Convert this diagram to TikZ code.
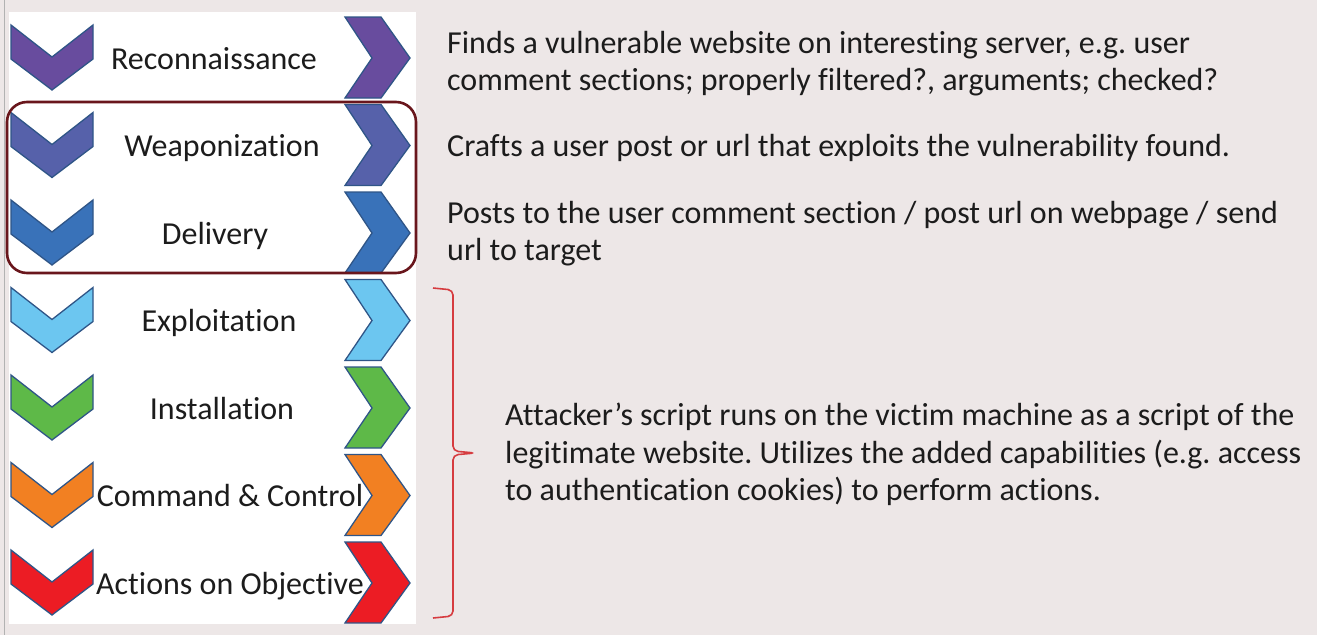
\documentclass[tikz,border=0pt]{standalone}
\usepackage{fontspec}
\setmainfont{Carlito}[Ligatures={NoCommon}]
\usepackage{tikz}
\usetikzlibrary{decorations.pathreplacing, positioning}
\frenchspacing
\definecolor{pagebg}{RGB}{237,231,231}
\definecolor{inktext}{RGB}{28,28,28}
\definecolor{cRecon}{RGB}{104,76,158}
\definecolor{cWeapon}{RGB}{86,97,170}
\definecolor{cDeliv}{RGB}{57,114,185}
\definecolor{cExploit}{RGB}{108,198,240}
\definecolor{cInstall}{RGB}{94,185,72}
\definecolor{cCommand}{RGB}{242,128,34}
\definecolor{cActions}{RGB}{236,28,36}
\definecolor{chevline}{RGB}{47,85,135}
\definecolor{bracered}{RGB}{214,60,64}
\definecolor{boxmaroon}{RGB}{105,22,28}

\begin{document}
\begin{tikzpicture}[x=1pt, y=-1pt,
    chev/.style={draw=chevline, line width=1.3pt, line join=miter},
    stagelbl/.style={text=inktext, inner sep=0pt, anchor=base, font=\fontsize{32}{38}\selectfont},
    desc/.style={text=inktext, inner sep=0pt, anchor=north west, align=left,
                 font=\fontsize{32}{37.5}\selectfont}]
            \useasboundingbox (0,0) rectangle (1317,635);
            \fill[pagebg] (0,0) rectangle (1317,635);
            \draw[gray!60, line width=1pt] (4,0) -- (4,635);
            \fill[white] (9,12) rectangle (416,624);
            % stages: left chevron, label, right chevron
            \foreach \i/\col/\lx/\lbl in {0/cRecon/214/Reconnaissance, 1/cWeapon/222/Weaponization,
                    2/cDeliv/215/Delivery, 3/cExploit/219/Exploitation, 4/cInstall/222/Installation,
                    5/cCommand/230/Command \& Control, 6/cActions/230/Actions on Objective} {
                \pgfmathsetmacro\c{58+87.5*\i}
                \draw[chev, fill=\col] (11,\c-33) -- (52,\c-1) -- (93,\c-33) -- (93,\c+1)
                    -- (52,\c+32) -- (11,\c+1) -- cycle;
                \draw[chev, fill=\col] (345,\c-41) -- (381,\c-41) -- (410,\c) -- (381,\c+40)
                    -- (345,\c+40) -- (372,\c) -- cycle;
                \node[stagelbl] (lbl\i) at (\lx,\c+11) {\lbl};
            }
            \draw[boxmaroon, line width=2.6pt, rounded corners=20pt] (7,102) rectangle (416,273);
            % descriptions
            \node[desc] (descrecon) at (447,31) {Finds a vulnerable website on interesting server, e.g. user\\
                comment sections; properly filtered?, arguments; checked?};
            \node[desc] (descweapon) at (447,134) {Crafts a user post or url that exploits the vulnerability found.};
            \node[desc] (descdeliv) at (447,201) {Posts to the user comment section / post url on webpage / send\\
                url to target};
            \node[desc] (descrest) at (505,403) {Attacker’s script runs on the victim machine as a script of the\\
                legitimate website. Utilizes the added capabilities (e.g. access\\
                to authentication cookies) to perform actions.};
            % brace
            \coordinate (brtop) at (433,288);
            \coordinate (brbot) at (433,618);
            \coordinate (brtip) at (475,453);
            \draw[bracered, line width=1.6pt, rounded corners=5pt] (brtop) -- (453,290) -- (453,451)
                -- (brtip) -- (453,455) -- (453,616) -- (brbot);
        \end{tikzpicture}
\end{document}
